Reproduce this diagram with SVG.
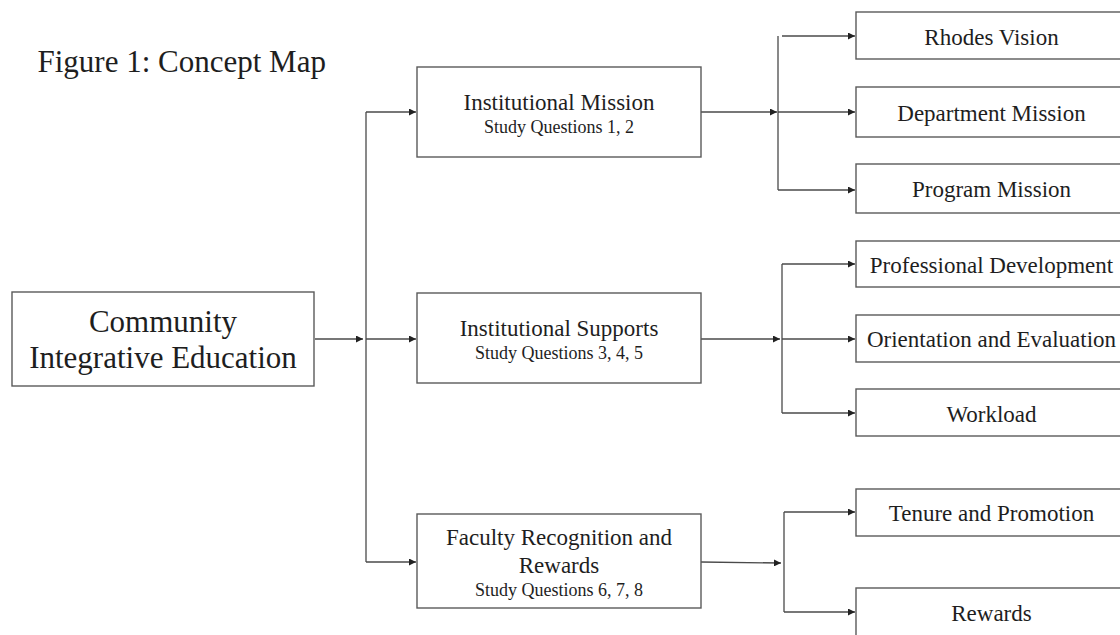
<svg xmlns="http://www.w3.org/2000/svg" width="1120" height="635" viewBox="0 0 1120 635">
<style>
.box{fill:#fff;stroke:#5a5a5a;stroke-width:1.4}
.t{font-family:"Liberation Serif","Times New Roman",serif;fill:#1e1e1e;text-anchor:middle}
.big{font-size:31px}
.mid{font-size:23px}
.sub{font-size:18px}
.c{fill:none;stroke:#4a4a4a;stroke-width:1.3}
</style>
<defs>
<marker id="ah" markerUnits="userSpaceOnUse" markerWidth="8" markerHeight="7" refX="7" refY="3.5" orient="auto">
<path d="M0,0 L7,3.5 L0,7 z" fill="#222"/>
</marker>
</defs>
<rect width="1120" height="635" fill="#fff"/>
<text class="t big" x="37.5" y="72" style="text-anchor:start">Figure 1: Concept Map</text>

<g id="connectors">
<line class="c" x1="315" y1="339" x2="363" y2="339" marker-end="url(#ah)"/>
<line class="c" x1="366" y1="112" x2="366" y2="562"/>
<line class="c" x1="366" y1="112" x2="416" y2="112" marker-end="url(#ah)"/>
<line class="c" x1="366" y1="339" x2="416" y2="339" marker-end="url(#ah)"/>
<line class="c" x1="366" y1="562" x2="416" y2="562" marker-end="url(#ah)"/>

<line class="c" x1="701" y1="112" x2="777" y2="112" marker-end="url(#ah)"/>
<line class="c" x1="778" y1="36" x2="778" y2="190"/>
<line class="c" x1="782" y1="36" x2="855" y2="36" marker-end="url(#ah)"/>
<line class="c" x1="778" y1="112" x2="855" y2="112" marker-end="url(#ah)"/>
<line class="c" x1="778" y1="190" x2="855" y2="190" marker-end="url(#ah)"/>

<line class="c" x1="701" y1="339" x2="780" y2="339" marker-end="url(#ah)"/>
<line class="c" x1="782" y1="264" x2="782" y2="413"/>
<line class="c" x1="782" y1="264" x2="855" y2="264" marker-end="url(#ah)"/>
<line class="c" x1="782" y1="339" x2="855" y2="339" marker-end="url(#ah)"/>
<line class="c" x1="782" y1="413" x2="855" y2="413" marker-end="url(#ah)"/>

<line class="c" x1="701" y1="562" x2="781" y2="563" marker-end="url(#ah)"/>
<line class="c" x1="784" y1="512" x2="784" y2="612"/>
<line class="c" x1="784" y1="512" x2="855" y2="512" marker-end="url(#ah)"/>
<line class="c" x1="784" y1="612" x2="855" y2="612" marker-end="url(#ah)"/>
</g>

<g id="node-community">
<rect class="box" x="12" y="292" width="302" height="94"/>
<text class="t big" x="163" y="332">Community</text>
<text class="t big" x="163" y="368">Integrative Education</text>
</g>

<g id="node-mission">
<rect class="box" x="417" y="67" width="284" height="90"/>
<text class="t mid" x="559" y="110">Institutional Mission</text>
<text class="t sub" x="559" y="133">Study Questions 1, 2</text>
</g>

<g id="node-supports">
<rect class="box" x="417" y="293" width="284" height="90"/>
<text class="t mid" x="559" y="336">Institutional Supports</text>
<text class="t sub" x="559" y="359">Study Questions 3, 4, 5</text>
</g>

<g id="node-faculty">
<rect class="box" x="417" y="514" width="284" height="94"/>
<text class="t mid" x="559" y="545">Faculty Recognition and</text>
<text class="t mid" x="559" y="573">Rewards</text>
<text class="t sub" x="559" y="596">Study Questions 6, 7, 8</text>
</g>

<g id="node-rhodes">
<rect class="box" x="856" y="12" width="271" height="47"/>
<text class="t mid" x="991.5" y="45">Rhodes Vision</text>
</g>
<g id="node-department">
<rect class="box" x="856" y="87" width="271" height="50"/>
<text class="t mid" x="991.5" y="121">Department Mission</text>
</g>
<g id="node-program">
<rect class="box" x="856" y="164" width="271" height="49"/>
<text class="t mid" x="991.5" y="197">Program Mission</text>
</g>
<g id="node-profdev">
<rect class="box" x="856" y="241" width="271" height="46"/>
<text class="t mid" x="991.5" y="273">Professional Development</text>
</g>
<g id="node-orientation">
<rect class="box" x="856" y="315" width="271" height="47"/>
<text class="t mid" x="991.5" y="347">Orientation and Evaluation</text>
</g>
<g id="node-workload">
<rect class="box" x="856" y="389" width="271" height="47"/>
<text class="t mid" x="991.5" y="422">Workload</text>
</g>
<g id="node-tenure">
<rect class="box" x="856" y="489" width="271" height="47"/>
<text class="t mid" x="991.5" y="521">Tenure and Promotion</text>
</g>
<g id="node-rewards">
<rect class="box" x="856" y="588" width="271" height="60"/>
<text class="t mid" x="991.5" y="621">Rewards</text>
</g>
</svg>
